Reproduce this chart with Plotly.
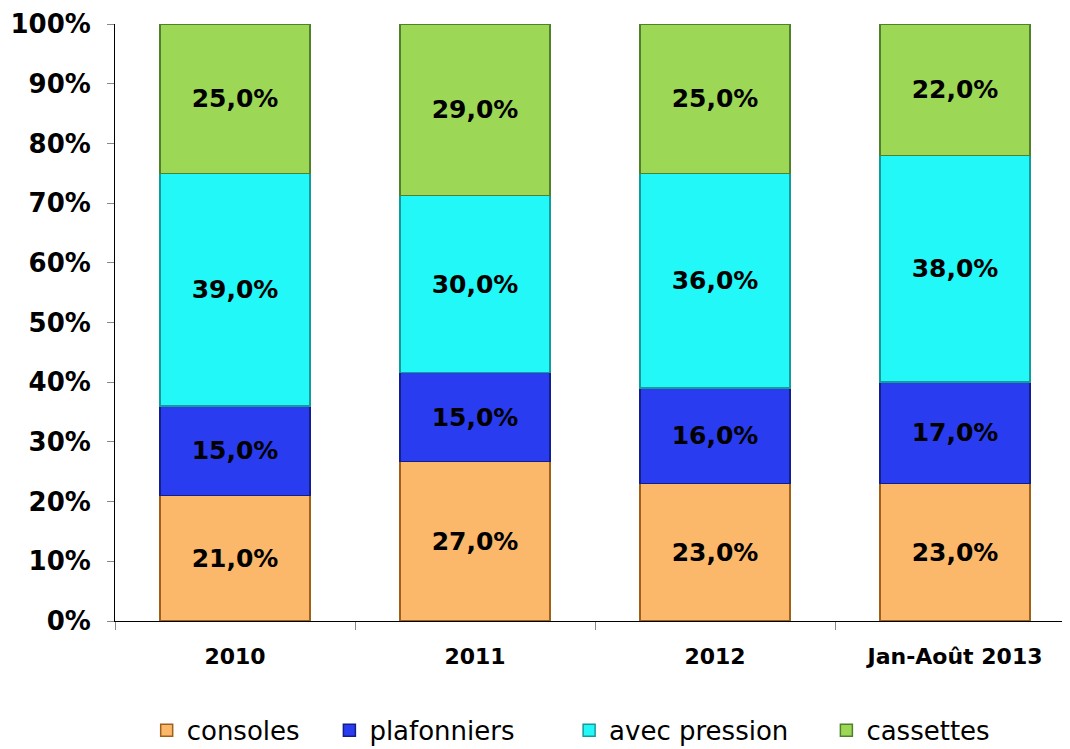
import plotly.graph_objects as go

categories = ["2010", "2011", "2012", "Jan-Août 2013"]
series_names = ["consoles", "plafonniers", "avec pression", "cassettes"]
consoles = [21.0, 27.0, 23.0, 23.0]
plafonniers = [15.0, 15.0, 16.0, 17.0]
avec_pression = [39.0, 30.0, 36.0, 38.0]
cassettes = [25.0, 29.0, 25.0, 22.0]
colors = ["#FBB86A", "#2A3CF0", "#22F8F8", "#9CD856"]
edge_colors = ["#A0601A", "#121E8A", "#169A9A", "#50802A"]
tick_vals = [0, 10, 20, 30, 40, 50, 60, 70, 80, 90, 100]
tick_text = [f"{v}%" for v in tick_vals]

legend_pads = [3, 6, 4, 0]

fig = go.Figure()
for name, vals, c, ec, p in zip(series_names, [consoles, plafonniers, avec_pression, cassettes], colors, edge_colors, legend_pads):
    fig.add_trace(go.Bar(
        x=categories, y=vals, name=name + "\u00a0" * p,
        marker=dict(color=c, line=dict(color=ec, width=1.5)),
        text=[f"{v:.1f}%".replace(".", ",") for v in vals],
        textposition="inside", insidetextanchor="middle",
        textfont=dict(family="DejaVu Sans", size=25, color="black", weight="bold"),
        width=0.625,
    ))

fig.update_layout(
    barmode="stack", barnorm="percent",
    width=1070, height=749,
    paper_bgcolor="white", plot_bgcolor="white",
    margin=dict(l=107, r=3, t=16, b=136, autoexpand=False),
    font=dict(family="DejaVu Sans", color="black"),
    uniformtext=dict(mode="show", minsize=10),
    xaxis=dict(
        range=[-0.5, 3.5], showline=True, linecolor="black", linewidth=1,
        ticks="outside", tickson="boundaries", ticklen=8, tickcolor="#888888",
        tickfont=dict(size=22, weight="bold"), ticklabelstandoff=16,
        showgrid=False, fixedrange=True, automargin=False,
    ),
    yaxis=dict(
        range=[0, 100], tickvals=tick_vals, ticktext=tick_text,
        showline=True, linecolor="black", linewidth=1,
        ticks="outside", ticklen=7, tickcolor="#888888",
        tickfont=dict(size=26, weight="bold"), showgrid=False, automargin=False,
        ticklabelstandoff=11,
    ),
    legend=dict(
        orientation="h", x=0.033, xanchor="left", y=-0.183, yanchor="middle",
        font=dict(size=26, family="DejaVu Sans"), itemwidth=30,
        traceorder="normal",
    ),
)

fig.write_html("out.html")
